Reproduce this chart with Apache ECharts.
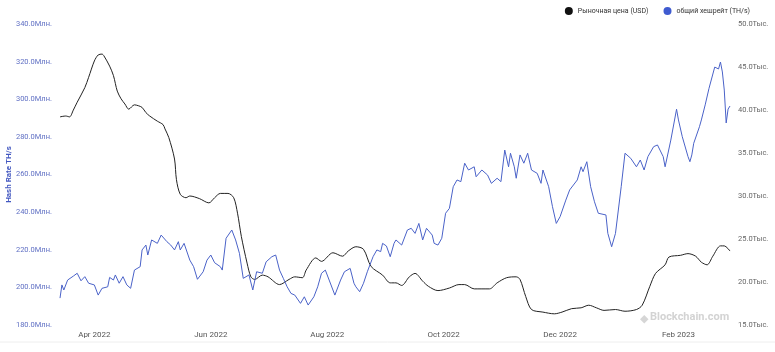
<!DOCTYPE html>
<html>
<head>
    <meta charset="utf-8">
    <title>Hash rate vs price</title>
    <script src="https://cdn.jsdelivr.net/npm/echarts@6/dist/echarts.min.js"></script>
    <style>
        html, body { margin: 0; padding: 0; background: #fff; }
    </style>
</head>
<body>
    <div id="main" style="width: 775px;height:352px;"></div>
    <script type="text/javascript">
        // рыночная цена, тыс. USD
        var priceDates = ['2022-03-14','2022-03-17','2022-03-19','2022-03-21','2022-03-23','2022-03-27','2022-03-29',
            '2022-04-01','2022-04-03','2022-04-05','2022-04-06','2022-04-09','2022-04-11','2022-04-13','2022-04-15',
            '2022-04-17','2022-04-19','2022-04-22','2022-04-24','2022-04-26','2022-04-28','2022-04-30',
            '2022-05-04','2022-05-07','2022-05-08','2022-05-10','2022-05-13','2022-05-14','2022-05-16','2022-05-19',
            '2022-05-21','2022-05-26','2022-05-31','2022-06-03','2022-06-06','2022-06-10','2022-06-13','2022-06-15',
            '2022-06-17','2022-06-20','2022-06-22','2022-06-24','2022-06-28','2022-07-01','2022-07-07','2022-07-12',
            '2022-07-15','2022-07-19','2022-07-21','2022-07-26','2022-07-29','2022-08-04','2022-08-09','2022-08-12',
            '2022-08-16','2022-08-20','2022-08-24','2022-08-30','2022-09-03','2022-09-06','2022-09-09','2022-09-13',
            '2022-09-16','2022-09-20','2022-09-23','2022-09-28','2022-10-04','2022-10-09','2022-10-12','2022-10-17',
            '2022-10-25','2022-10-29','2022-11-03','2022-11-08','2022-11-10','2022-11-13','2022-11-16','2022-11-22',
            '2022-11-28','2022-12-02','2022-12-07','2022-12-12','2022-12-16','2022-12-20','2022-12-24','2022-12-30',
            '2023-01-04','2023-01-10','2023-01-13','2023-01-17','2023-01-20','2023-01-25','2023-01-27','2023-02-02',
            '2023-02-06','2023-02-10','2023-02-13','2023-02-16','2023-02-19','2023-02-23','2023-02-25','2023-02-28'];
        var priceValues = [39.2,39.3,39.2,40.0,40.9,42.6,43.8,
            45.7,46.4,46.5,46.3,45.1,44.0,42.2,41.3,
            40.7,40.1,40.6,40.5,40.3,39.7,39.3,
            38.7,38.3,37.8,36.8,34.3,31.9,30.2,29.8,
            30.0,29.7,29.2,29.8,30.3,30.3,29.8,28.0,
            25.3,22.2,20.6,20.3,20.8,20.6,19.7,20.3,
            20.6,20.5,21.4,22.8,22.4,23.4,23.0,23.6,
            24.1,23.8,21.8,20.8,19.9,19.9,19.6,20.6,
            21.0,20.1,19.5,19.0,19.3,19.7,19.7,19.2,
            19.2,19.9,20.5,20.6,20.3,18.3,16.8,16.5,
            16.3,16.5,16.9,17.0,17.3,17.0,16.7,16.8,
            16.6,16.8,17.3,19.5,21.0,22.0,22.9,23.1,
            23.3,23.0,22.3,22.0,23.0,24.2,24.2,23.6];

        // общий хешрейт, млн TH/s
        var hashDates = ['2022-03-14','2022-03-15','2022-03-16','2022-03-18','2022-03-21','2022-03-23','2022-03-25',
            '2022-03-27','2022-03-29','2022-04-01','2022-04-03','2022-04-05','2022-04-08','2022-04-09','2022-04-11',
            '2022-04-12','2022-04-14','2022-04-16','2022-04-18','2022-04-20','2022-04-22','2022-04-25','2022-04-26',
            '2022-04-28','2022-04-29','2022-05-01','2022-05-04','2022-05-06','2022-05-09','2022-05-11','2022-05-13',
            '2022-05-15','2022-05-16','2022-05-18','2022-05-21','2022-05-23','2022-05-25','2022-05-28','2022-05-30',
            '2022-06-01','2022-06-03','2022-06-06','2022-06-07','2022-06-09','2022-06-12','2022-06-14','2022-06-16',
            '2022-06-18','2022-06-21','2022-06-23','2022-06-25','2022-06-28','2022-06-30','2022-07-03','2022-07-05',
            '2022-07-07','2022-07-09','2022-07-11','2022-07-13','2022-07-15','2022-07-18','2022-07-20','2022-07-22',
            '2022-07-25','2022-07-27','2022-07-29','2022-07-31','2022-08-02','2022-08-05','2022-08-08','2022-08-10',
            '2022-08-13','2022-08-15','2022-08-16','2022-08-18','2022-08-20','2022-08-22','2022-08-25','2022-08-27',
            '2022-08-29','2022-08-30','2022-09-01','2022-09-03','2022-09-05','2022-09-06','2022-09-09','2022-09-12',
            '2022-09-14','2022-09-16','2022-09-18','2022-09-20','2022-09-22','2022-09-25','2022-09-26','2022-09-28',
            '2022-09-30','2022-10-02','2022-10-04','2022-10-06','2022-10-08','2022-10-10','2022-10-12','2022-10-14',
            '2022-10-17','2022-10-18','2022-10-21','2022-10-24','2022-10-26','2022-10-29','2022-10-31','2022-11-02',
            '2022-11-04','2022-11-05','2022-11-07','2022-11-08','2022-11-10','2022-11-12','2022-11-14','2022-11-16',
            '2022-11-19','2022-11-21','2022-11-22','2022-11-25','2022-11-27','2022-11-29','2022-12-01','2022-12-04',
            '2022-12-06','2022-12-10','2022-12-12','2022-12-13','2022-12-15','2022-12-17','2022-12-19','2022-12-21',
            '2022-12-25','2022-12-26','2022-12-28','2022-12-30','2023-01-02','2023-01-03','2023-01-04','2023-01-07',
            '2023-01-10','2023-01-12','2023-01-14','2023-01-16','2023-01-19','2023-01-21','2023-01-24','2023-01-25',
            '2023-01-28','2023-01-31','2023-02-01','2023-02-03','2023-02-06','2023-02-07','2023-02-08','2023-02-09',
            '2023-02-12','2023-02-13','2023-02-15','2023-02-17','2023-02-20','2023-02-21','2023-02-22','2023-02-23',
            '2023-02-24','2023-02-25','2023-02-26','2023-02-27','2023-02-28'];
        var hashValues = [194.3,201.3,198.6,203.9,206.0,207.5,203.5,
            205.7,202.2,201.3,195.9,199.5,200.3,205.3,203.9,
            206.6,202.2,205.7,201.3,199.5,209.2,211.0,219.9,
            222.5,217.2,225.2,223.4,227.8,224.3,222.5,219.9,
            224.3,219.9,223.4,214.5,211.0,204.3,208.3,214.5,
            217.2,213.1,211.0,209.2,226.1,230.5,225.2,218.1,
            204.8,206.6,198.6,208.3,207.5,213.6,216.3,217.2,
            209.2,204.8,200.3,196.8,195.9,191.5,195.0,190.6,
            195.0,200.3,207.5,209.2,203.9,195.9,203.9,208.3,
            210.1,202.2,200.3,197.7,202.2,208.3,216.3,219.9,
            219.0,223.4,222.0,216.3,223.4,225.2,222.5,230.5,
            231.4,228.7,234.0,225.2,231.4,227.8,223.4,222.5,
            226.1,239.4,242.0,253.5,257.1,256.2,266.0,262.4,
            264.1,258.8,262.4,259.7,255.3,258.0,256.2,273.0,
            264.1,271.3,264.1,258.0,270.4,266.0,271.3,262.4,
            260.6,255.3,262.4,253.5,242.9,234.0,237.6,246.4,
            251.8,257.1,264.1,261.5,266.8,253.5,245.5,239.4,
            238.5,228.7,221.6,228.7,253.5,262.4,271.3,268.6,
            264.1,267.7,262.4,269.5,274.8,275.7,269.5,264.1,
            278.3,294.7,289.0,280.1,269.5,266.8,270.4,276.6,
            285.4,289.0,297.0,305.8,317.1,317.7,316.1,319.8,
            314.5,304.9,287.4,294.8,296.4];

        // подписи оси X
        var tickDates = ['2022-04-01','2022-06-01','2022-08-01','2022-10-01','2022-12-01','2023-02-01'];
        var tickLabels = ['Apr 2022','Jun 2022','Aug 2022','Oct 2022','Dec 2022','Feb 2023'];

        var seriesNames = ['Рыночная цена (USD)', 'общий хешрейт (TH/s)'];

        function toTime(d) {
            return Date.parse(d + 'T00:00:00Z');
        }

        function zip(dates, values) {
            var out = [];
            for (var i = 0; i < dates.length; i++) {
                out.push([toTime(dates[i]), values[i]]);
            }
            return out;
        }

        var tickTimes = tickDates.map(toTime);

        var myChart = echarts.init(document.getElementById('main'));

        var font = 'Roboto, sans-serif';

        var option = {
            animation: false,
            textStyle: { fontFamily: font },
            legend: {
                right: 20,
                top: 2,
                itemWidth: 8,
                itemHeight: 8,
                itemGap: 15,
                icon: 'circle',
                textStyle: { fontSize: 7, color: '#333', fontFamily: font },
                data: seriesNames
            },
            grid: {
                left: 60,
                right: 45,
                top: 24,
                bottom: 27,
                outerBoundsMode: 'none',
                containLabel: false
            },
            xAxis: {
                type: 'value',
                min: toTime('2022-03-14'),
                max: toTime('2023-02-28'),
                axisLine: { show: false },
                axisTick: { show: false },
                splitLine: { show: false },
                axisLabel: {
                    customValues: tickTimes,
                    fontSize: 8,
                    color: '#555',
                    margin: 6,
                    formatter: function (val) {
                        var i = tickTimes.indexOf(+val);
                        return i >= 0 ? tickLabels[i] : '';
                    }
                }
            },
            yAxis: [
                {
                    type: 'value',
                    position: 'left',
                    min: 180,
                    max: 340,
                    interval: 20,
                    name: 'Hash Rate TH/s',
                    nameLocation: 'middle',
                    nameGap: 47,
                    nameMoveOverlap: false,
                    nameTextStyle: { color: '#4257c0', fontWeight: 'bold', fontSize: 8 },
                    axisLine: { show: false },
                    axisTick: { show: false },
                    splitLine: { show: false },
                    axisLabel: {
                        fontSize: 7.5,
                        color: '#6070c4',
                        margin: 8,
                        formatter: function (v) { return v.toFixed(1) + 'Млн.'; }
                    }
                },
                {
                    type: 'value',
                    position: 'right',
                    min: 15,
                    max: 50,
                    interval: 5,
                    axisLine: { show: false },
                    axisTick: { show: false },
                    splitLine: { show: false },
                    axisLabel: {
                        fontSize: 7.5,
                        color: '#666',
                        margin: 8,
                        formatter: function (v) { return v.toFixed(1) + 'Тыс.'; }
                    }
                }
            ],
            graphic: [
                {
                    type: 'line',
                    shape: { x1: 0, y1: 342, x2: 775, y2: 342 },
                    style: { stroke: '#eeeeee', lineWidth: 1 },
                    silent: true
                },
                {
                    type: 'rect',
                    left: 640,
                    top: 315,
                    rotation: Math.PI / 4,
                    shape: { width: 6, height: 6 },
                    style: { fill: '#d6d6d6' },
                    silent: true
                },
                {
                    type: 'text',
                    left: 650,
                    top: 312,
                    style: {
                        text: 'Blockchain.com',
                        fill: '#d3d3d3',
                        font: 'bold 11px Roboto, sans-serif'
                    },
                    silent: true
                }
            ],
            series: [
                {
                    name: seriesNames[0],
                    type: 'line',
                    yAxisIndex: 1,
                    showSymbol: false,
                    symbol: 'circle',
                    smooth: 0.3,
                    color: '#111',
                    lineStyle: { width: 1, color: '#222' },
                    data: zip(priceDates, priceValues)
                },
                {
                    name: seriesNames[1],
                    type: 'line',
                    yAxisIndex: 0,
                    showSymbol: false,
                    symbol: 'circle',
                    color: '#3f5bd0',
                    lineStyle: { width: 1, color: '#4a62c8' },
                    data: zip(hashDates, hashValues)
                }
            ]
        };

        myChart.setOption(option);
    </script>
</body>
</html>
